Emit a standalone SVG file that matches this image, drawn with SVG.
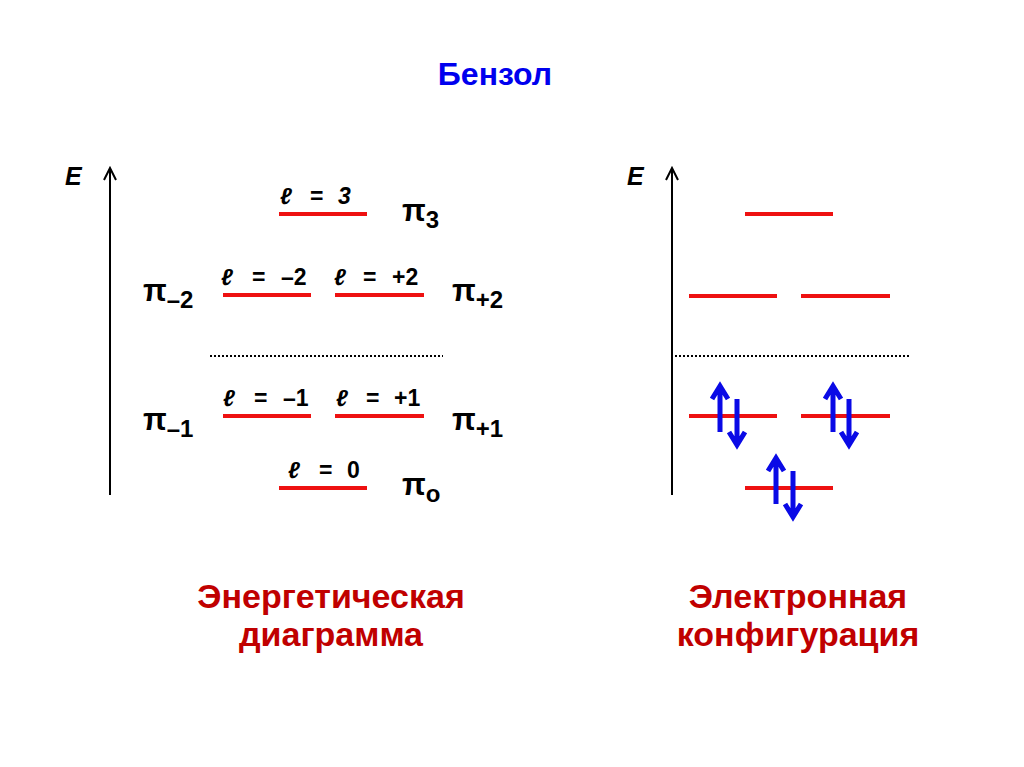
<svg xmlns="http://www.w3.org/2000/svg" width="1024" height="767" viewBox="0 0 1024 767">
<style>
.lvl{stroke:#EE1111;stroke-width:4;fill:none}
.axis{stroke:#000;stroke-width:2;fill:none}
.dot{stroke:#000;stroke-width:2;stroke-dasharray:2 2;fill:none}
.el{stroke:#0A0AE6;stroke-width:5;fill:none;stroke-linejoin:miter}
.t{font-family:"Liberation Sans",Arial,sans-serif;font-weight:bold;fill:#000}
.l{font-size:23px}
.li{font-style:italic}
.pi{font-size:31px}
.sub{font-size:24px}
.cap{font-family:"Liberation Sans",Arial,sans-serif;font-weight:bold;font-size:34px;fill:#C00000;text-anchor:middle}
</style>
<defs>
<g id="up"><path class="el" d="M0,48 V2 M-8,15 L0,2 L8,15"/></g>
<g id="down"><path class="el" d="M0,-48 V-2 M-8,-15 L0,-2 L8,-15"/></g>
</defs>
<rect width="1024" height="767" fill="#fff"/>
<text x="495" y="85" font-family="Liberation Sans,Arial,sans-serif" font-weight="bold" font-size="32" fill="#0000EE" text-anchor="middle">Бензол</text>

<g id="left-axis">
<path class="axis" d="M110,495 V168 M104,180 L110,168 L116,180"/>
<text class="t li" x="65" y="185" font-size="25">E</text>
</g>

<g id="left-levels">
<line class="lvl" x1="279" y1="214" x2="367" y2="214"/>
<line class="lvl" x1="223" y1="295" x2="311" y2="295"/>
<line class="lvl" x1="335" y1="295" x2="424" y2="295"/>
<line class="dot" x1="210" y1="356" x2="443" y2="356"/>
<line class="lvl" x1="223" y1="416" x2="311" y2="416"/>
<line class="lvl" x1="335" y1="416" x2="424" y2="416"/>
<line class="lvl" x1="279" y1="488" x2="367" y2="488"/>
</g>

<g id="l-labels" class="t l">
<text y="204"><tspan x="280" class="li">ℓ</tspan><tspan x="310">=</tspan><tspan x="338" class="li">3</tspan></text>
<text y="285"><tspan x="221" class="li">ℓ</tspan><tspan x="252">=</tspan><tspan x="281">–2</tspan></text>
<text y="285"><tspan x="334" class="li">ℓ</tspan><tspan x="363">=</tspan><tspan x="392">+2</tspan></text>
<text y="406"><tspan x="223" class="li">ℓ</tspan><tspan x="254">=</tspan><tspan x="283">–1</tspan></text>
<text y="406"><tspan x="336" class="li">ℓ</tspan><tspan x="366">=</tspan><tspan x="394">+1</tspan></text>
<text y="478"><tspan x="288" class="li">ℓ</tspan><tspan x="319">=</tspan><tspan x="347">0</tspan></text>
</g>

<g id="pi-labels" class="t">
<text x="402" y="221" class="pi">π<tspan class="sub" dy="7">3</tspan></text>
<text x="143" y="301" class="pi">π<tspan class="sub" dy="7">–2</tspan></text>
<text x="452" y="301" class="pi">π<tspan class="sub" dy="7">+2</tspan></text>
<text x="143" y="430" class="pi">π<tspan class="sub" dy="7">–1</tspan></text>
<text x="452" y="430" class="pi">π<tspan class="sub" dy="7">+1</tspan></text>
<text x="402" y="495" class="pi">π<tspan class="sub" dy="7">o</tspan></text>
</g>

<g id="right-axis">
<path class="axis" d="M672,495 V168 M666,180 L672,168 L678,180"/>
<text class="t li" x="627" y="185" font-size="25">E</text>
</g>

<g id="right-levels">
<line class="lvl" x1="745" y1="214" x2="833" y2="214"/>
<line class="lvl" x1="689" y1="296" x2="777" y2="296"/>
<line class="lvl" x1="801" y1="296" x2="890" y2="296"/>
<line class="dot" x1="675" y1="356" x2="909" y2="356"/>
<line class="lvl" x1="689" y1="416" x2="777" y2="416"/>
<line class="lvl" x1="801" y1="416" x2="890" y2="416"/>
<line class="lvl" x1="745" y1="488" x2="833" y2="488"/>
</g>

<g id="electrons">
<use href="#up" x="720" y="384"/>
<use href="#down" x="737" y="447"/>
<use href="#up" x="833" y="384"/>
<use href="#down" x="849" y="447"/>
<use href="#up" x="776" y="456"/>
<use href="#down" x="793" y="519"/>
</g>

<g id="captions">
<text class="cap" x="331" y="608">Энергетическая</text>
<text class="cap" x="331" y="646">диаграмма</text>
<text class="cap" x="798" y="608">Электронная</text>
<text class="cap" x="798" y="646">конфигурация</text>
</g>
</svg>
